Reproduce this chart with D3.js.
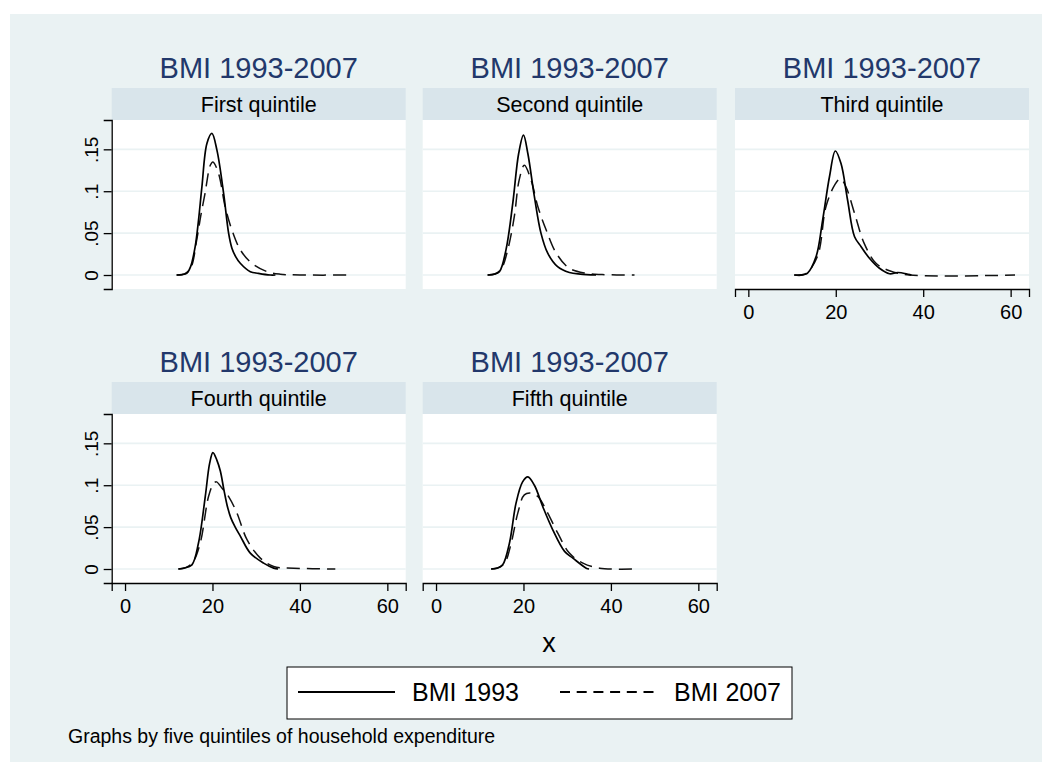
<!DOCTYPE html>
<html>
<head>
<meta charset="utf-8">
<script src="https://cdn.jsdelivr.net/npm/d3@7"></script>
<style>
  body { margin: 0; background: #fff; }
  text { font-family: "Liberation Sans", Arial, sans-serif; }
</style>
</head>
<body>
<svg id="chart" width="1052" height="776"></svg>
<script>
// panels, in order of the grid
const quintiles = ["First quintile", "Second quintile", "Third quintile", "Fourth quintile", "Fifth quintile"];
const panelTitle = "BMI 1993-2007";

// kernel density curves, [bmi, density]
const q1_1993 = [[11.8,0],[13,0.0005],[14.1,0.002],[15,0.01],[16.05,0.034],[16.8,0.065],[17.58,0.105],[18.73,0.157],[19.87,0.169],[21.02,0.149],[22.55,0.0975],[23.7,0.0497],[24.45,0.032],[25.3,0.022],[26.36,0.014],[28.66,0.004],[30.5,0.002],[33.2,0],[34.4,0]];
const q1_2007 = [[11.8,0],[13.5,0.001],[15,0.008],[16.4,0.042],[17.3,0.07],[18.3,0.0975],[19.5,0.131],[20.1,0.135],[21.4,0.121],[22.9,0.0815],[24.45,0.0537],[26.4,0.0298],[29,0.014],[32.5,0.004],[35.5,0.001],[40,0],[51.6,0]];
const q2_1993 = [[11.8,0],[13.2,0.001],[14.5,0.004],[16,0.03],[17.55,0.0855],[18.9,0.145],[20,0.167],[21,0.145],[22.5,0.0935],[24,0.05],[25.55,0.026],[27.8,0.01],[30.5,0.003],[33,0.001],[36.6,0]];
const q2_2007 = [[11.8,0],[13.5,0.001],[15,0.008],[16.4,0.03],[17.9,0.0696],[19,0.113],[20.2,0.131],[21.75,0.113],[23.3,0.0815],[25.2,0.0537],[27.5,0.026],[30.5,0.008],[34.35,0.002],[38,0.0005],[45.4,0]];
const q3_1993 = [[10.5,0],[12.5,0.0005],[13.5,0.002],[15.5,0.022],[17,0.0656],[18.55,0.117],[19.9,0.148],[21.2,0.133],[22.7,0.0895],[24.3,0.0457],[25.8,0.0338],[27.7,0.02],[30,0.008],[32.3,0.0015],[34.2,0.003],[37.3,0]];
const q3_2007 = [[10.5,0],[13,0.001],[15.8,0.022],[17.75,0.0815],[19.7,0.107],[21.05,0.115],[22.35,0.105],[24.3,0.0736],[26.5,0.0378],[29.2,0.014],[32.3,0.005],[36.9,0],[61,0]];
const q4_1993 = [[12.2,0],[13.5,0.001],[15.3,0.005],[16.8,0.031],[18.35,0.0865],[19.35,0.126],[20.1,0.139],[21,0.13],[21.8,0.117],[22.6,0.095],[23.4,0.075],[24.2,0.061],[25.2,0.05],[26.4,0.039],[28.65,0.019],[31.7,0.007],[34,0.001],[35,0]];
const q4_2007 = [[12.2,0],[14,0.002],[15.5,0.008],[17.2,0.031],[19.1,0.0865],[20.25,0.102],[20.9,0.104],[22.2,0.0964],[23.7,0.0865],[25.6,0.0667],[27.9,0.035],[30.95,0.013],[34,0.003],[38.6,0.001],[48.1,0]];
const q5_1993 = [[12.6,0],[14,0.001],[15.25,0.005],[16.8,0.031],[18.3,0.0786],[19.8,0.104],[21,0.11],[22.5,0.1],[24.4,0.0746],[26.7,0.0468],[29.4,0.021],[31.3,0.013],[34.35,0.001],[35,0]];
const q5_2007 = [[12.6,0],[14.5,0.002],[15.8,0.008],[17.2,0.031],[18.7,0.0667],[20.2,0.0885],[21.75,0.0905],[23.3,0.0865],[25.55,0.0667],[27.85,0.0428],[30.5,0.019],[33.6,0.007],[37.4,0.001],[45,0]];

const series1993 = [q1_1993, q2_1993, q3_1993, q4_1993, q5_1993];
const series2007 = [q1_2007, q2_2007, q3_2007, q4_2007, q5_2007];

const xTicks = [0, 20, 40, 60];
const yTicks = [0, 0.05, 0.1, 0.15];
const yTickLabels = ["0", ".05", ".1", ".15"];
const legendLabels = ["BMI 1993", "BMI 2007"];
const xTitle = "x";
const note = "Graphs by five quintiles of household expenditure";

const svg = d3.select("#chart");
const bg = "#eaf2f3", strip = "#d9e5eb", navy = "#22386b";

svg.append("rect").attr("x", 10).attr("y", 14).attr("width", 1032).attr("height", 748).attr("fill", bg);

// grid geometry
const colX = [111.7, 422.7, 735];
const rowY = [88, 382];
const pw = 294, stripH = 32, ph = 169;

const x = d3.scaleLinear().domain([-3.05, 64.2]).range([0, pw]);
const y = d3.scaleLinear().domain([-0.0167, 0.185]).range([ph, 0]);

const line = d3.line().x(d => x(d[0])).y(d => y(d[1])).curve(d3.curveCatmullRom.alpha(0.5));

quintiles.forEach((q, i) => {
    const col = i % 3, row = Math.floor(i / 3);
    const g = svg.append("g").attr("transform", `translate(${colX[col]},${rowY[row]})`);

    g.append("text")
     .attr("x", pw / 2).attr("y", -10)
     .attr("text-anchor", "middle")
     .attr("font-size", 29).attr("fill", navy)
     .text(panelTitle);

    g.append("rect").attr("width", pw).attr("height", stripH).attr("fill", strip);
    g.append("text")
     .attr("x", pw / 2).attr("y", 23.5)
     .attr("text-anchor", "middle")
     .attr("font-size", 21.5).attr("fill", "#000")
     .text(q);

    const p = g.append("g").attr("transform", `translate(0,${stripH})`);
    p.append("rect").attr("width", pw).attr("height", ph).attr("fill", "#fff");

    p.selectAll(".grid")
     .data(yTicks)
     .enter().append("line")
     .attr("x1", 0).attr("x2", pw)
     .attr("y1", d => y(d)).attr("y2", d => y(d))
     .attr("stroke", bg).attr("stroke-width", 1.6);

    p.append("path").datum(series2007[i])
     .attr("d", line).attr("fill", "none")
     .attr("stroke", "#111").attr("stroke-width", 1.5)
     .attr("stroke-dasharray", "13,7");

    p.append("path").datum(series1993[i])
     .attr("d", line).attr("fill", "none")
     .attr("stroke", "#000").attr("stroke-width", 1.7);

    if (col === 0) {
        const ya = p.append("g")
          .call(d3.axisLeft(y).tickValues(yTicks).tickSize(8).tickPadding(4)
                  .tickFormat((d, k) => yTickLabels[k]));
        ya.select(".domain").attr("stroke", "#000").attr("stroke-width", 1.3);
        ya.selectAll(".tick line").attr("stroke", "#000").attr("stroke-width", 1.3);
        ya.selectAll(".tick text")
          .attr("font-size", 19).attr("fill", "#000")
          .attr("transform", "rotate(-90)")
          .attr("x", 0).attr("y", -14)
          .attr("dy", 0)
          .attr("text-anchor", "middle");
    }

    // bottom axis only where no panel sits below
    if (row === 1 || col === 2) {
        const xa = p.append("g").attr("transform", `translate(0,${ph})`)
          .call(d3.axisBottom(x).tickValues(xTicks).tickSize(8).tickPadding(8).tickFormat(d3.format("d")));
        xa.select(".domain").attr("stroke", "#000").attr("stroke-width", 1.3);
        xa.selectAll(".tick line").attr("stroke", "#000").attr("stroke-width", 1.3);
        xa.selectAll(".tick text").attr("font-size", 20).attr("fill", "#000").attr("dy", "0.72em");
    }
});

// x axis title
svg.append("text")
   .attr("x", 549).attr("y", 652)
   .attr("text-anchor", "middle")
   .attr("font-size", 27).attr("fill", "#000")
   .text(xTitle);

// legend
const lg = svg.append("g").attr("transform", "translate(287,667)");
lg.append("rect").attr("width", 505).attr("height", 52)
  .attr("fill", "#fff").attr("stroke", "#000").attr("stroke-width", 1);
const legendItems = [
    { label: legendLabels[0], x0: 11, tx: 125, dash: null },
    { label: legendLabels[1], x0: 273, tx: 387, dash: "10,6.7" }
];
legendItems.forEach(it => {
    lg.append("line")
      .attr("x1", it.x0).attr("x2", it.x0 + 97)
      .attr("y1", 25).attr("y2", 25)
      .attr("stroke", "#000").attr("stroke-width", 2)
      .attr("stroke-dasharray", it.dash);
    lg.append("text")
      .attr("x", it.tx).attr("y", 34)
      .attr("font-size", 25).attr("fill", "#000")
      .text(it.label);
});

svg.append("text")
   .attr("x", 68).attr("y", 743)
   .attr("font-size", 19.5).attr("fill", "#000")
   .text(note);
</script>
</body>
</html>
